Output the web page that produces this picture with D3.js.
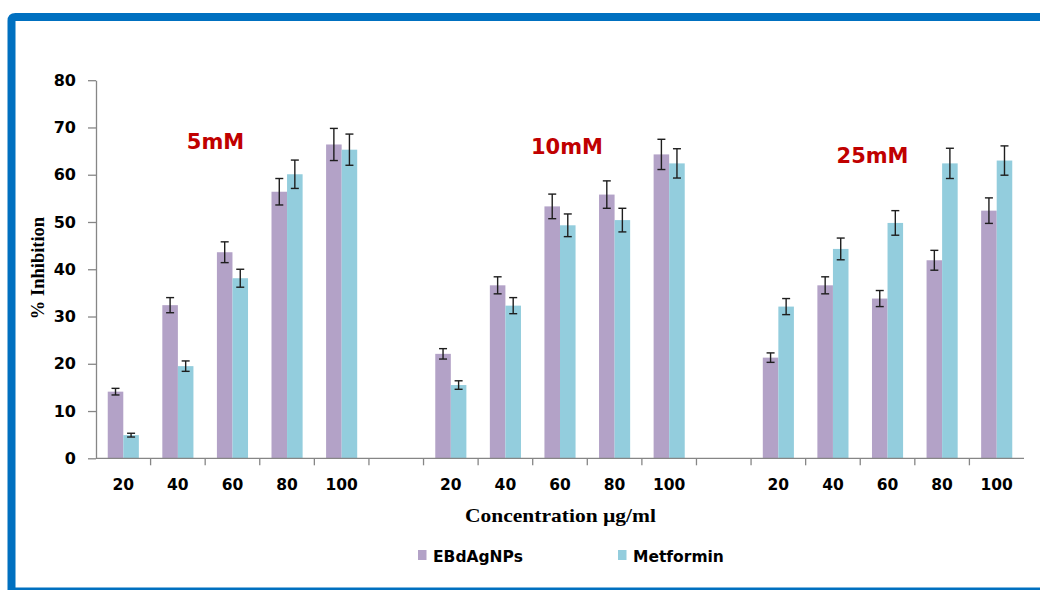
<!DOCTYPE html>
<html>
<head>
<meta charset="utf-8">
<script src="https://cdn.jsdelivr.net/npm/d3@7"></script>
<style>
  html, body { margin: 0; padding: 0; background: #fff; }
  svg { display: block; }
</style>
</head>
<body>
<svg id="chart" width="1040" height="590"></svg>
<script>
// Data
const groups = ['5mM', '10mM', '25mM'];
const concentrations = ['20', '40', '60', '80', '100'];
const seriesNames = ['EBdAgNPs', 'Metformin'];
const seriesColors = ['#b3a2c7', '#93cddd'];

// values per group, in concentration order
const ebdValues = [
  [14.1, 32.4, 43.6, 56.4, 66.4],
  [22.1, 36.6, 53.3, 55.8, 64.3],
  [21.3, 36.6, 33.8, 41.9, 52.4]
];
const ebdErrors = [
  [0.7, 1.6, 2.2, 2.8, 3.4],
  [1.1, 1.8, 2.6, 2.9, 3.2],
  [1.0, 1.8, 1.7, 2.1, 2.7]
];
const metValues = [
  [4.9, 19.5, 38.1, 60.1, 65.3],
  [15.5, 32.3, 49.3, 50.4, 62.4],
  [32.1, 44.3, 49.8, 62.4, 63.0]
];
const metErrors = [
  [0.4, 1.1, 1.9, 3.0, 3.3],
  [0.9, 1.7, 2.4, 2.5, 3.1],
  [1.7, 2.3, 2.6, 3.2, 3.1]
];
// group label height, in % inhibition units
const groupLabelLevel = [65.4, 64.4, 62.4];
const yTicks = [0, 10, 20, 30, 40, 50, 60, 70, 80];

// Build the category slots: 5 concentrations per group with an empty slot between groups
const slots = [];
groups.forEach((g, gi) => {
  concentrations.forEach(c => slots.push(g + '|' + c));
  if (gi < groups.length - 1) slots.push('gap' + gi);
});

const rows = [];
groups.forEach((g, gi) => {
  concentrations.forEach((c, ci) => {
    rows.push({ slot: g + '|' + c, series: 0, value: ebdValues[gi][ci], err: ebdErrors[gi][ci] });
    rows.push({ slot: g + '|' + c, series: 1, value: metValues[gi][ci], err: metErrors[gi][ci] });
  });
});

const svg = d3.select('#chart');

// Blue frame (open on the right)
svg.append('path')
  .attr('d', 'M11.5,590 L11.5,21 Q11.5,17 15.5,17 L1040,17')
  .attr('fill', 'none')
  .attr('stroke', '#0070c0')
  .attr('stroke-width', 8);
svg.append('rect')
  .attr('x', 8).attr('y', 587.5).attr('width', 1032).attr('height', 3)
  .attr('fill', '#0070c0');

const plotLeft = 96, plotRight = 1024, plotTop = 80.2, plotBottom = 458.3;

const x = d3.scaleBand()
  .domain(slots)
  .range([plotLeft, plotRight])
  .padding(0);

const y = d3.scaleLinear()
  .domain([0, 80])
  .range([plotBottom, plotTop]);

const barW = x.bandwidth() * 0.285;
const sub = d3.scaleBand().domain([0, 1]).range([0, barW * 2]);
const pairOffset = (x.bandwidth() - barW * 2) / 2;

const axisColor = '#868686';
const font = "'Century Gothic', 'DejaVu Sans', sans-serif";

// Bars
svg.append('g')
  .selectAll('rect')
  .data(rows)
  .join('rect')
  .attr('x', d => x(d.slot) + pairOffset + sub(d.series))
  .attr('y', d => y(d.value))
  .attr('width', sub.bandwidth())
  .attr('height', d => y(0) - y(d.value))
  .attr('fill', d => seriesColors[d.series]);

// Error bars
const eb = svg.append('g')
  .attr('stroke', '#1e1e1e')
  .attr('stroke-width', 1.4);
rows.forEach(d => {
  const cx = x(d.slot) + pairOffset + sub(d.series) + sub.bandwidth() / 2;
  const y1 = y(d.value + d.err), y2 = y(d.value - d.err);
  eb.append('line').attr('x1', cx).attr('x2', cx).attr('y1', y1).attr('y2', y2);
  eb.append('line').attr('x1', cx - 4).attr('x2', cx + 4).attr('y1', y1).attr('y2', y1);
  eb.append('line').attr('x1', cx - 4).attr('x2', cx + 4).attr('y1', y2).attr('y2', y2);
});

// Y axis
const yAxis = svg.append('g')
  .attr('transform', `translate(${plotLeft},0)`)
  .call(d3.axisLeft(y).tickValues(yTicks).tickSize(8).tickPadding(12).tickSizeOuter(0));
yAxis.select('.domain').attr('stroke', axisColor).attr('stroke-width', 1.3);
yAxis.selectAll('.tick line').attr('stroke', axisColor).attr('stroke-width', 1.3);
yAxis.selectAll('.tick text')
  .attr('font-family', font)
  .attr('font-weight', 'bold')
  .attr('font-size', 16)
  .attr('fill', '#000');

// X axis: ticks at slot boundaries
const xAxisG = svg.append('g');
xAxisG.append('line')
  .attr('x1', plotLeft).attr('x2', plotRight)
  .attr('y1', plotBottom).attr('y2', plotBottom)
  .attr('stroke', axisColor).attr('stroke-width', 1.3);
xAxisG.selectAll('line.tick')
  .data(slots.slice(1))
  .join('line')
  .attr('class', 'tick')
  .attr('x1', d => x(d)).attr('x2', d => x(d))
  .attr('y1', plotBottom).attr('y2', plotBottom + 7)
  .attr('stroke', axisColor).attr('stroke-width', 1.3);
xAxisG.selectAll('text')
  .data(slots.filter(s => s.indexOf('|') > -1))
  .join('text')
  .attr('x', d => x(d) + x.bandwidth() / 2)
  .attr('y', 490)
  .attr('text-anchor', 'middle')
  .attr('font-family', font)
  .attr('font-weight', 'bold')
  .attr('font-size', 15.5)
  .text(d => d.split('|')[1]);

// Group labels
svg.append('g')
  .selectAll('text')
  .data(groups)
  .join('text')
  .attr('x', (g, i) => x(g + '|60') + x.bandwidth() / 2 + [-17, 7, -15][i])
  .attr('y', (g, i) => y(groupLabelLevel[i]))
  .attr('text-anchor', 'middle')
  .attr('font-family', font)
  .attr('font-weight', 'bold')
  .attr('font-size', 21)
  .attr('fill', '#c00000')
  .text(g => g);

// Axis titles
svg.append('text')
  .attr('transform', 'translate(44,268) rotate(-90)')
  .attr('text-anchor', 'middle')
  .attr('font-family', "'Liberation Serif', 'Times New Roman', serif")
  .attr('font-weight', 'bold')
  .attr('font-size', 18.5)
  .text('% Inhibition');

svg.append('text')
  .attr('x', 465)
  .attr('y', 522)
  .attr('font-family', "'Liberation Serif', 'Times New Roman', serif")
  .attr('font-weight', 'bold')
  .attr('font-size', 19)
  .attr('textLength', 191)
  .attr('lengthAdjust', 'spacingAndGlyphs')
  .text('Concentration  \u00b5g/ml');

// Legend
const legendX = [418, 618];
const legend = svg.append('g');
seriesNames.forEach((name, i) => {
  legend.append('rect')
    .attr('x', legendX[i]).attr('y', 550)
    .attr('width', 8.5).attr('height', 10)
    .attr('fill', seriesColors[i]);
  legend.append('text')
    .attr('x', legendX[i] + 15)
    .attr('y', 562)
    .attr('font-family', font)
    .attr('font-weight', 'bold')
    .attr('font-size', 15.5)
    .text(name);
});
</script>
</body>
</html>
